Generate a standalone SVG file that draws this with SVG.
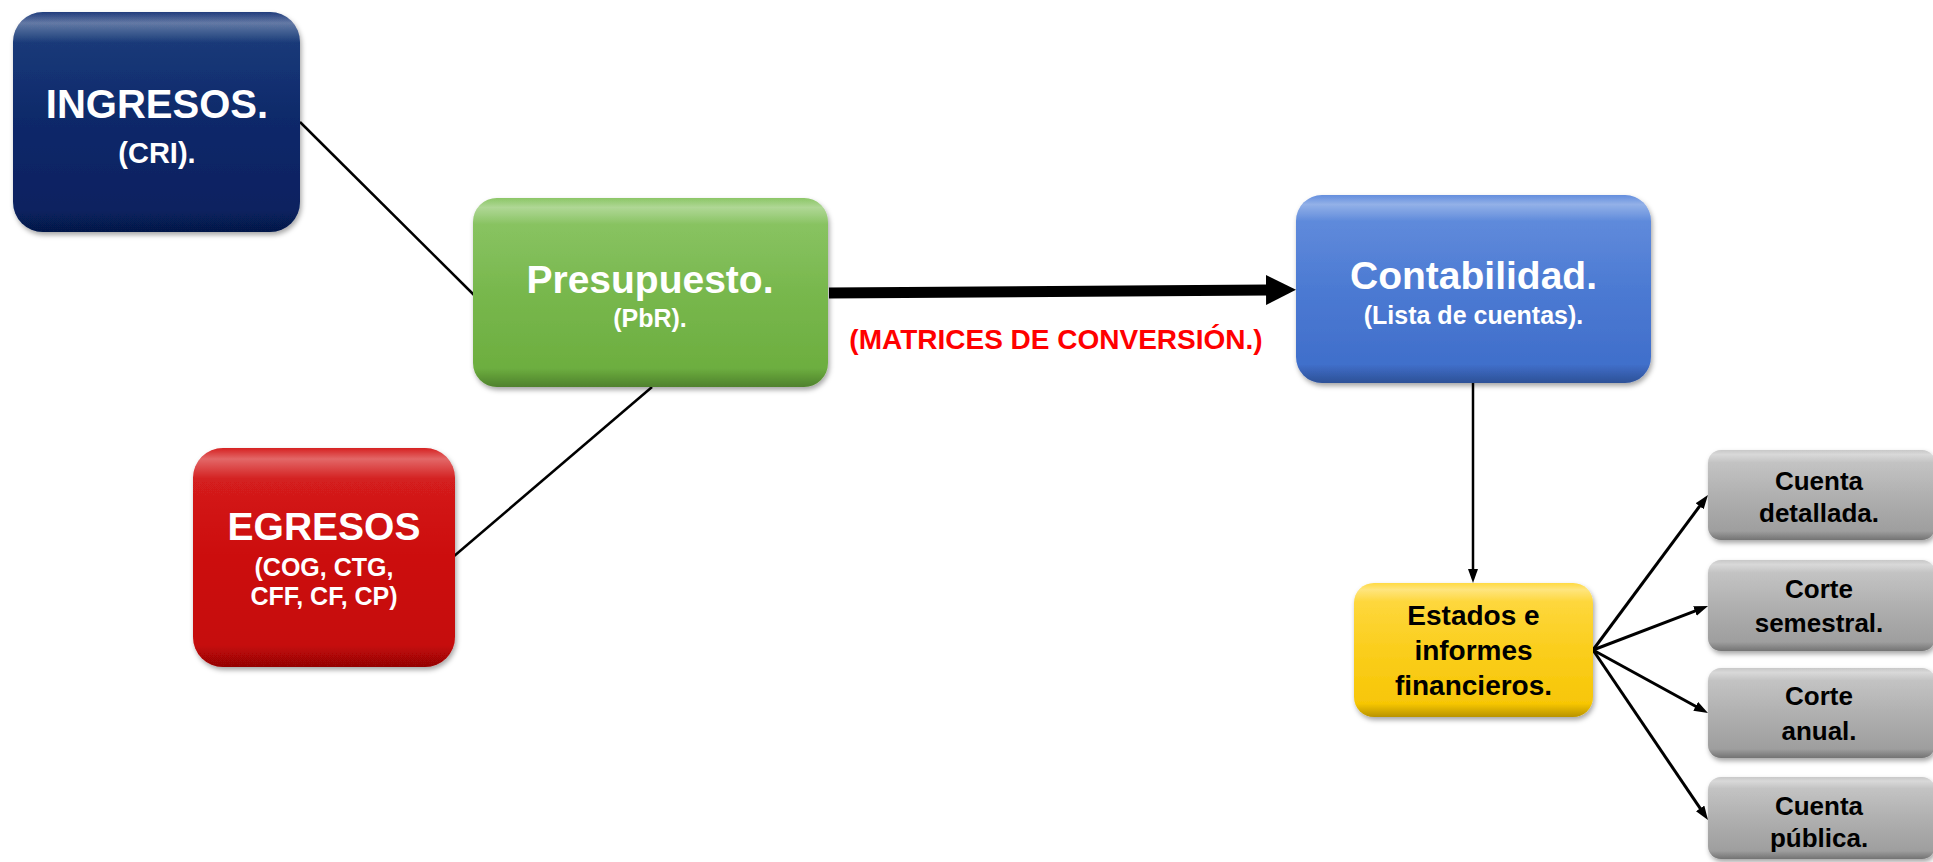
<svg xmlns="http://www.w3.org/2000/svg" width="1933" height="862" viewBox="0 0 1933 862">
  <defs>
    <style>
      .lbl { font-family: "Liberation Sans", Arial, sans-serif; font-weight: bold; text-anchor: middle; }
      .w { fill: #ffffff; }
      .k { fill: #000000; }
      .conn { stroke: #000000; fill: none; }
      .thin { stroke-width: 2.5; }
      .fan { stroke-width: 3; }
      .gloss { fill: url(#gloss); }
    </style>
    <filter id="sh" x="-10%" y="-10%" width="125%" height="130%">
      <feDropShadow dx="1.5" dy="3" stdDeviation="2.5" flood-color="#000" flood-opacity="0.35"/>
    </filter>
    <linearGradient id="gloss" x1="0" y1="0" x2="0" y2="1">
      <stop offset="0" stop-color="#fff" stop-opacity="0.05"/>
      <stop offset="0.05" stop-color="#fff" stop-opacity="0.35"/>
      <stop offset="0.14" stop-color="#fff" stop-opacity="0.05"/>
      <stop offset="0.5" stop-color="#fff" stop-opacity="0"/>
      <stop offset="0.9" stop-color="#000" stop-opacity="0"/>
      <stop offset="1" stop-color="#000" stop-opacity="0.25"/>
    </linearGradient>
    <linearGradient id="gNavy" x1="0" y1="0" x2="0" y2="1">
      <stop offset="0" stop-color="#123275"/>
      <stop offset="1" stop-color="#061f5e"/>
    </linearGradient>
    <linearGradient id="gGreen" x1="0" y1="0" x2="0" y2="1">
      <stop offset="0" stop-color="#86c35e"/>
      <stop offset="1" stop-color="#6aac3c"/>
    </linearGradient>
    <linearGradient id="gRed" x1="0" y1="0" x2="0" y2="1">
      <stop offset="0" stop-color="#d41414"/>
      <stop offset="1" stop-color="#c40606"/>
    </linearGradient>
    <linearGradient id="gBlue" x1="0" y1="0" x2="0" y2="1">
      <stop offset="0" stop-color="#5b88dc"/>
      <stop offset="1" stop-color="#3d6cc9"/>
    </linearGradient>
    <linearGradient id="gYellow" x1="0" y1="0" x2="0" y2="1">
      <stop offset="0" stop-color="#ffd83a"/>
      <stop offset="1" stop-color="#f6c400"/>
    </linearGradient>
    <linearGradient id="gGray" x1="0" y1="0" x2="0" y2="1">
      <stop offset="0" stop-color="#c6c6c6"/>
      <stop offset="1" stop-color="#9a9a9a"/>
    </linearGradient>
    <marker id="bigHead" markerUnits="userSpaceOnUse" markerWidth="32" markerHeight="32" refX="2" refY="15" orient="auto">
      <path d="M0,0 L30,15 L0,30 z" fill="#000"/>
    </marker>
    <marker id="head" markerUnits="userSpaceOnUse" markerWidth="16" markerHeight="12" refX="4" refY="5" orient="auto">
      <path d="M0,0 L14,5 L0,10 z" fill="#000"/>
    </marker>
  </defs>

  <rect x="0" y="0" width="1933" height="862" fill="#ffffff"/>

  <g id="connectors">
    <line class="conn thin" x1="300" y1="122" x2="474" y2="295"/>
    <line class="conn thin" x1="652" y1="387" x2="453" y2="557"/>
    <line class="conn" stroke-width="11" x1="829" y1="293" x2="1268" y2="290" marker-end="url(#bigHead)"/>
    <line class="conn thin" x1="1473" y1="383" x2="1473" y2="573" marker-end="url(#head)"/>
    <line class="conn fan" x1="1593" y1="650" x2="1702" y2="503" marker-end="url(#head)"/>
    <line class="conn fan" x1="1593" y1="650" x2="1698.7" y2="609.6" marker-end="url(#head)"/>
    <line class="conn fan" x1="1593" y1="650" x2="1699.2" y2="708.2" marker-end="url(#head)"/>
    <line class="conn fan" x1="1593" y1="650" x2="1702.4" y2="811.7" marker-end="url(#head)"/>
    <text class="lbl" x="1056" y="349" font-size="28" fill="#ff0000">(MATRICES DE CONVERSIÓN.)</text>
  </g>

  <g id="ingresos">
    <rect x="13" y="12" width="287" height="220" rx="30" fill="url(#gNavy)" filter="url(#sh)"/>
    <rect x="13" y="12" width="287" height="220" rx="30" class="gloss"/>
    <text class="lbl w" x="157" y="118" font-size="40">INGRESOS.</text>
    <text class="lbl w" x="157" y="163" font-size="29">(CRI).</text>
  </g>

  <g id="presupuesto">
    <rect x="473" y="198" width="355" height="189" rx="24" fill="url(#gGreen)" filter="url(#sh)"/>
    <rect x="473" y="198" width="355" height="189" rx="24" class="gloss"/>
    <text class="lbl w" x="650" y="293" font-size="39">Presupuesto.</text>
    <text class="lbl w" x="650" y="327" font-size="25">(PbR).</text>
  </g>

  <g id="egresos">
    <rect x="193" y="448" width="262" height="219" rx="30" fill="url(#gRed)" filter="url(#sh)"/>
    <rect x="193" y="448" width="262" height="219" rx="30" class="gloss"/>
    <text class="lbl w" x="324" y="540" font-size="39">EGRESOS</text>
    <text class="lbl w" x="324" y="576" font-size="25">(COG, CTG,</text>
    <text class="lbl w" x="324" y="605" font-size="25">CFF, CF, CP)</text>
  </g>

  <g id="contabilidad">
    <rect x="1296" y="195" width="355" height="188" rx="26" fill="url(#gBlue)" filter="url(#sh)"/>
    <rect x="1296" y="195" width="355" height="188" rx="26" class="gloss"/>
    <text class="lbl w" x="1473.5" y="289" font-size="39">Contabilidad.</text>
    <text class="lbl w" x="1473.5" y="324" font-size="25">(Lista de cuentas).</text>
  </g>

  <g id="estados">
    <rect x="1354" y="583" width="239" height="134" rx="20" fill="url(#gYellow)" filter="url(#sh)"/>
    <rect x="1354" y="583" width="239" height="134" rx="20" class="gloss"/>
    <text class="lbl k" x="1473.5" y="625" font-size="28">Estados e</text>
    <text class="lbl k" x="1473.5" y="660" font-size="28">informes</text>
    <text class="lbl k" x="1473.5" y="695" font-size="28">financieros.</text>
  </g>

  <g id="cuenta-detallada">
    <rect x="1708" y="450" width="227" height="90" rx="13" fill="url(#gGray)" filter="url(#sh)"/>
    <rect x="1708" y="450" width="227" height="90" rx="13" class="gloss"/>
    <text class="lbl k" x="1819" y="490" font-size="26">Cuenta</text>
    <text class="lbl k" x="1819" y="522" font-size="26">detallada.</text>
  </g>

  <g id="corte-semestral">
    <rect x="1708" y="560" width="227" height="91" rx="13" fill="url(#gGray)" filter="url(#sh)"/>
    <rect x="1708" y="560" width="227" height="91" rx="13" class="gloss"/>
    <text class="lbl k" x="1819" y="598" font-size="26">Corte</text>
    <text class="lbl k" x="1819" y="632" font-size="26">semestral.</text>
  </g>

  <g id="corte-anual">
    <rect x="1708" y="668" width="227" height="90" rx="13" fill="url(#gGray)" filter="url(#sh)"/>
    <rect x="1708" y="668" width="227" height="90" rx="13" class="gloss"/>
    <text class="lbl k" x="1819" y="705" font-size="26">Corte</text>
    <text class="lbl k" x="1819" y="740" font-size="26">anual.</text>
  </g>

  <g id="cuenta-publica">
    <rect x="1708" y="777" width="227" height="82" rx="13" fill="url(#gGray)" filter="url(#sh)"/>
    <rect x="1708" y="777" width="227" height="82" rx="13" class="gloss"/>
    <text class="lbl k" x="1819" y="815" font-size="26">Cuenta</text>
    <text class="lbl k" x="1819" y="847" font-size="26">pública.</text>
  </g>
</svg>
